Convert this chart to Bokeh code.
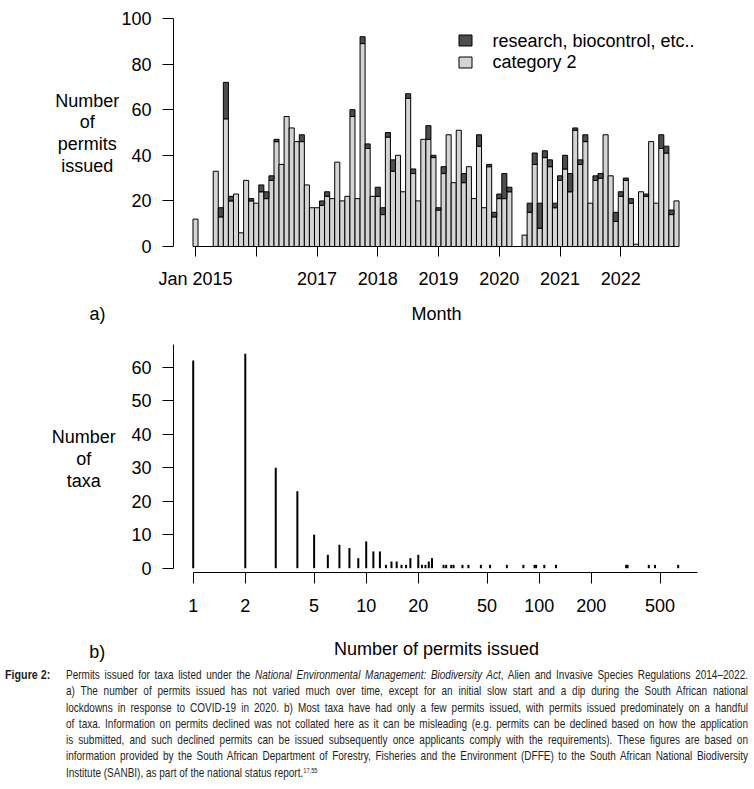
from bokeh.plotting import figure
from bokeh.models import Range1d, FixedTicker, Div
from bokeh.layouts import column
from bokeh.embed import file_html
from bokeh.resources import INLINE
from bokeh.core.properties import value

# ---------------- data (panel a): monthly permits, Jan 2015 .. Dec 2022 ----------------
month_index = list(range(96))
category2 = [12, 0, 0, 0, 33, 13, 56, 20, 23, 6, 29, 20,
             19, 24, 21, 29, 46, 36, 57, 52, 46, 46, 27, 17,
             17, 18, 22, 21, 37, 20, 22, 57, 21, 89, 43, 22,
             22, 14, 48, 33, 40, 24, 65, 32, 20, 47, 47, 39,
             16, 32, 49, 28, 51, 28, 35, 21, 44, 17, 35, 13,
             21, 21, 24, 0, 0, 5, 15, 36, 8, 39, 35, 17,
             29, 34, 24, 51, 36, 46, 19, 29, 30, 49, 31, 11,
             22, 29, 19, 1, 24, 22, 46, 19, 43, 41, 14, 20]
research = [0, 0, 0, 0, 0, 4, 16, 2, 0, 0, 0, 1,
            0, 3, 3, 2, 1, 0, 0, 0, 0, 3, 0, 0,
            0, 2, 2, 0, 0, 0, 0, 3, 0, 3, 2, 0,
            4, 3, 2, 5, 0, 0, 2, 2, 0, 0, 6, 1,
            1, 3, 0, 0, 0, 4, 0, 0, 5, 0, 1, 2,
            2, 11, 2, 0, 0, 0, 4, 5, 11, 3, 3, 2,
            2, 6, 8, 1, 2, 3, 0, 2, 2, 0, 0, 4,
            2, 1, 2, 0, 0, 1, 0, 0, 6, 3, 2, 0]
year_tick_idx = [0, 12, 24, 36, 48, 60, 72, 84]
year_tick_labels = ["Jan 2015", "", "2017", "2018", "2019", "2020", "2021", "2022"]
y1_ticks = [0, 20, 40, 60, 80, 100]
legend_labels = ["research, biocontrol, etc..", "category 2"]

# ---------------- data (panel b): taxa by number of permits ----------------
permits = [1, 2, 3, 4, 5, 6, 7, 8, 9, 10, 11, 12, 13, 14, 15, 16, 17, 18, 20, 21, 22, 23, 24,
           28, 29, 31, 32, 36, 39, 46, 52, 65, 81, 94, 96, 107, 125, 318, 324, 430, 467, 636]
taxa = [62, 64, 30, 23, 10, 4, 7, 6, 3, 8, 5, 5, 1, 2, 2, 1, 1, 3, 4, 1, 1, 2, 3,
        1, 1, 1, 1, 1, 1, 1, 1, 1, 1, 1, 1, 1, 1, 1, 1, 1, 1, 1]
x2_ticks = [1, 2, 5, 10, 20, 50, 100, 200, 500]
y2_ticks = [0, 10, 20, 30, 40, 50, 60]

DARK = "#4D4D4D"
LIGHT = "#D4D4D4"
FONT = "Liberation Sans"
FS = "18px"


def style(p):
    p.xgrid.visible = False
    p.ygrid.visible = False
    p.outline_line_color = None
    p.background_fill_color = "white"
    p.border_fill_color = "white"
    for ax in p.axis:
        ax.axis_line_color = "black"
        ax.axis_line_width = 1
        ax.major_tick_line_color = "black"
        ax.major_tick_in = 0
        ax.minor_tick_line_color = None
        ax.major_label_text_font = FONT
        ax.major_label_text_font_size = FS
        ax.major_label_text_color = "black"


def texts(p, xs, ys, labels, align="center"):
    p.text(x=xs, y=ys, text=labels, text_font=value(FONT), text_font_size=value(FS),
           text_color="black", text_align=align, text_baseline="middle")


# ---------------- panel a ----------------
p1 = figure(width=754, height=333, x_range=Range1d(-38.515, 110.409), y_range=Range1d(-38.158, 107.895),
            output_backend="svg", toolbar_location=None, title=None, min_border=0)

lx = [m for m, c in zip(month_index, category2) if c > 0]
lt = [c for c in category2 if c > 0]
p1.vbar(x=lx, width=1, bottom=0, top=lt, fill_color=LIGHT, line_color="black", line_width=1)
dx = [m for m, r in zip(month_index, research) if r > 0]
db = [c for c, r in zip(category2, research) if r > 0]
dt = [c + r for c, r in zip(category2, research) if r > 0]
p1.vbar(x=dx, width=1, bottom=db, top=dt, fill_color=DARK, line_color="black", line_width=1)

style(p1)
p1.xaxis.fixed_location = 0
p1.xaxis.ticker = FixedTicker(ticks=year_tick_idx)
p1.xaxis.major_label_overrides = {t: l for t, l in zip(year_tick_idx, year_tick_labels)}
p1.xaxis.bounds = (year_tick_idx[0], year_tick_idx[-1])
p1.xaxis.major_tick_out = 10
p1.xaxis.major_label_standoff = 13
p1.yaxis.fixed_location = -4.345
p1.yaxis.ticker = FixedTicker(ticks=y1_ticks)
p1.yaxis.bounds = (0, 100)
p1.yaxis.major_tick_out = 11
p1.yaxis.major_label_standoff = 11

# legend
p1.rect(x=[53.33, 53.33], y=[90.35, 80.7], width=13, height=11, width_units="screen",
        height_units="screen", fill_color=[DARK, LIGHT], line_color="black", line_width=1)
texts(p1, [58.66, 58.66], [90.1, 80.9], legend_labels, align="left")

texts(p1, [-21.39] * 4, [63.9, 54.39, 44.87, 35.35], ["Number", "of", "permits", "issued"])
texts(p1, [-19.36, 47.6], [-29.39, -29.39], ["a)", "Month"])

# ---------------- panel b ----------------
p2 = figure(width=754, height=330, x_axis_type="log", x_range=Range1d(0.07692, 1756.0),
            y_range=Range1d(-28.448, 70.06), output_backend="svg", toolbar_location=None,
            title=None, min_border=0)
p2.segment(x0=permits, y0=0, x1=permits, y1=taxa, line_color="black", line_width=2, line_cap="butt")
style(p2)
p2.xaxis.fixed_location = -1.373
p2.xaxis.ticker = FixedTicker(ticks=x2_ticks)
p2.xaxis.major_label_overrides = {t: str(t) for t in x2_ticks}
p2.xaxis.bounds = (1, 822)
p2.xaxis.major_tick_out = 11
p2.xaxis.major_label_standoff = 15
p2.yaxis.fixed_location = 0.7694
p2.yaxis.ticker = FixedTicker(ticks=y2_ticks)
p2.yaxis.bounds = (0, 66.78)
p2.yaxis.major_tick_out = 11
p2.yaxis.major_label_standoff = 11

texts(p2, [0.2332] * 3, [39.1, 32.6, 26.1], ["Number", "of", "taxa"])
texts(p2, [0.2787, 25.49], [-24.9, -24.0], ["b)", "Number of permits issued"])

# ---------------- caption ----------------
cap_lines = [
    "Permits issued for taxa listed under the <i>National Environmental Management: Biodiversity Act</i>, Alien and Invasive Species Regulations 2014\u20132022.",
    "a) The number of permits issued has not varied much over time, except for an initial slow start and a dip during the South African national",
    "lockdowns in response to COVID-19 in 2020. b) Most taxa have had only a few permits issued, with permits issued predominately on a handful",
    "of taxa. Information on permits declined was not collated here as it can be misleading (e.g. permits can be declined based on how the application",
    "is submitted, and such declined permits can be issued subsequently once applicants comply with the requirements). These figures are based on",
    "information provided by the South African Department of Forestry, Fisheries and the Environment (DFFE) to the South African National Biodiversity",
    "Institute (SANBI), as part of the national status report.<span style=\"font-size:7px; position:relative; top:-4px;\">17,55</span>",
]
SCALE = 0.82
rows = []
for k, line in enumerate(cap_lines):
    last = "left" if k == len(cap_lines) - 1 else "justify"
    rows.append(f'<div style="height:16.3px; line-height:16.3px; text-align:justify; '
                f'text-align-last:{last}; white-space:nowrap;">{line}</div>')
html = (f'<div style="position:relative; width:754px; height:124px; font-family:\'Liberation Sans\',Arial,sans-serif; '
        f'font-size:12.2px; color:#1e1e1e;">'
        f'<div style="position:absolute; left:5px; top:4px; line-height:16.3px; font-weight:bold; '
        f'transform:scaleX(0.88); transform-origin:0 0; white-space:nowrap;">Figure 2:</div>'
        f'<div style="position:absolute; left:66px; top:4px; width:{682 / SCALE:.1f}px; '
        f'transform:scaleX({SCALE}); transform-origin:0 0;">' + "".join(rows) + '</div></div>')
cap = Div(text=html, width=754, height=124, margin=(0, 0, 0, 0))

layout = column(p1, p2, cap, spacing=0)
open("out.html", "w").write(file_html(layout, INLINE))
